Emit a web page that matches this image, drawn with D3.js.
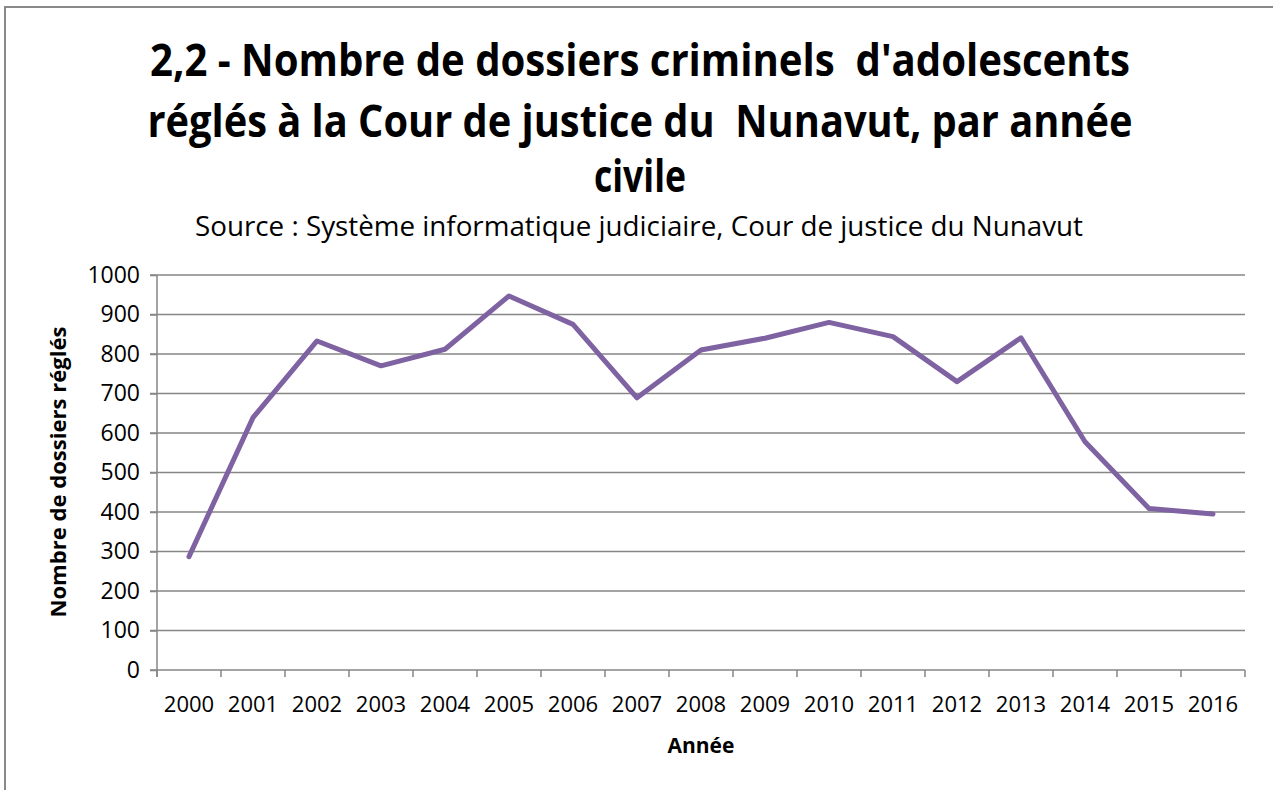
<!DOCTYPE html>
<html>
<head>
<meta charset="utf-8">
<script src="https://cdn.jsdelivr.net/npm/d3@7"></script>
<style>
  body { margin: 0; background: #fff; }
  text { font-family: "Open Sans", "DejaVu Sans", sans-serif; fill: #000; }
</style>
</head>
<body>
<div id="chart"></div>
<script>
// Youth criminal cases settled at the Nunavut Court of Justice, by calendar year

const years = ["2000", "2001", "2002", "2003", "2004", "2005", "2006", "2007", "2008",
  "2009", "2010", "2011", "2012", "2013", "2014", "2015", "2016"];
const cases = [287, 639, 833, 770, 812, 947, 875, 689, 810, 840, 880, 844, 730, 841, 578, 409, 395];
const yTicks = [0, 100, 200, 300, 400, 500, 600, 700, 800, 900, 1000];
const titleLines = ["2,2 - Nombre de dossiers criminels  d'adolescents",
  "réglés à la Cour de justice du  Nunavut, par année", "civile"];
const subtitle = "Source : Système informatique judiciaire, Cour de justice du Nunavut";

const W = 1273, H = 790;
const p_t = 275, p_r = 28, p_b = 120, p_l = 157; // plot padding, clockwise from top

const svg = d3.select("#chart").append("svg")
  .attr("width", W)
  .attr("height", H);

// chart frame
svg.append("rect")
  .attr("x", 5).attr("y", 7)
  .attr("width", W + 20).attr("height", H + 20)
  .attr("fill", "white")
  .attr("stroke", "#898989")
  .attr("stroke-width", 2);

// Title
const titleY = [76, 137, 192];
const titleLen = [980, 985, 92];
svg.selectAll(".title").data(titleLines).enter()
  .append("text")
  .attr("class", "title")
  .attr("x", 640)
  .attr("y", (d, i) => titleY[i])
  .attr("text-anchor", "middle")
  .attr("textLength", (d, i) => titleLen[i])
  .attr("lengthAdjust", "spacingAndGlyphs")
  .style("font-size", "44px")
  .style("font-weight", "bold")
  .style("white-space", "pre")
  .text(d => d);

svg.append("text")
  .attr("x", 639).attr("y", 236)
  .attr("text-anchor", "middle")
  .attr("textLength", 888)
  .attr("lengthAdjust", "spacingAndGlyphs")
  .style("font-size", "27px")
  .text(subtitle);

// Scales
const xScale = d3.scaleBand()
  .domain(years)
  .range([p_l, W - p_r]);

const yScale = d3.scaleLinear()
  .domain([0, 1000])
  .range([H - p_b, p_t]);

// Gridlines
svg.append("g")
  .selectAll("line")
  .data(yTicks.filter(v => v > 0))
  .enter().append("line")
  .attr("x1", p_l - 7).attr("x2", W - p_r)
  .attr("y1", d => yScale(d)).attr("y2", d => yScale(d))
  .attr("stroke", "#868686")
  .attr("stroke-width", 1.5);

// Y axis
const yAxis = svg.append("g")
  .attr("transform", `translate(${p_l} 0)`)
  .call(d3.axisLeft(yScale).tickValues(yTicks).tickFormat(d3.format("d"))
    .tickSize(7).tickPadding(10).tickSizeOuter(0));
yAxis.select(".domain").attr("stroke", "#868686").attr("stroke-width", 1.5)
  .attr("d", `M0,${yScale(1000)}V${yScale(0) + 7}`);
yAxis.selectAll(".tick line").attr("stroke", "#868686").attr("stroke-width", 1.5);
yAxis.selectAll(".tick text")
  .style("font-size", "23px")
  .style("font-family", "'Open Sans', sans-serif")
  .attr("fill", "#000");

// X axis: labels at category centres, ticks between categories
const xAxis = svg.append("g")
  .attr("transform", `translate(0 ${yScale(0)})`)
  .call(d3.axisBottom(xScale).tickSize(0).tickPadding(26).tickSizeOuter(0));
xAxis.select(".domain").attr("stroke", "#868686").attr("stroke-width", 1.5)
  .attr("d", `M${p_l - 7},0H${W - p_r}`);
xAxis.selectAll(".tick text")
  .style("font-size", "22px")
  .style("font-family", "'Open Sans', sans-serif")
  .attr("fill", "#000");

const boundaries = years.map(d => xScale(d)).concat([W - p_r]);
xAxis.selectAll(".cat-tick")
  .data(boundaries)
  .enter().append("line")
  .attr("class", "cat-tick")
  .attr("x1", d => d).attr("x2", d => d)
  .attr("y1", 0).attr("y2", 7)
  .attr("stroke", "#868686")
  .attr("stroke-width", 1.5);

// Axis titles
svg.append("text")
  .attr("x", (p_l + W - p_r) / 2).attr("y", 753)
  .attr("text-anchor", "middle")
  .style("font-size", "21px")
  .style("font-weight", "bold")
  .text("Année");

svg.append("text")
  .attr("transform", `translate(66 ${472}) rotate(-90)`)
  .attr("text-anchor", "middle")
  .attr("textLength", 291)
  .attr("lengthAdjust", "spacingAndGlyphs")
  .style("font-size", "22px")
  .style("font-weight", "bold")
  .text("Nombre de dossiers réglés");

// Data line
const line = d3.line()
  .x((d, i) => xScale(years[i]) + xScale.bandwidth() / 2)
  .y(d => yScale(d));

svg.append("path")
  .datum(cases)
  .attr("d", line)
  .attr("fill", "none")
  .attr("stroke", "#7E62A1")
  .attr("stroke-width", 5)
  .attr("stroke-linejoin", "round")
  .attr("stroke-linecap", "round");
</script>
</body>
</html>
